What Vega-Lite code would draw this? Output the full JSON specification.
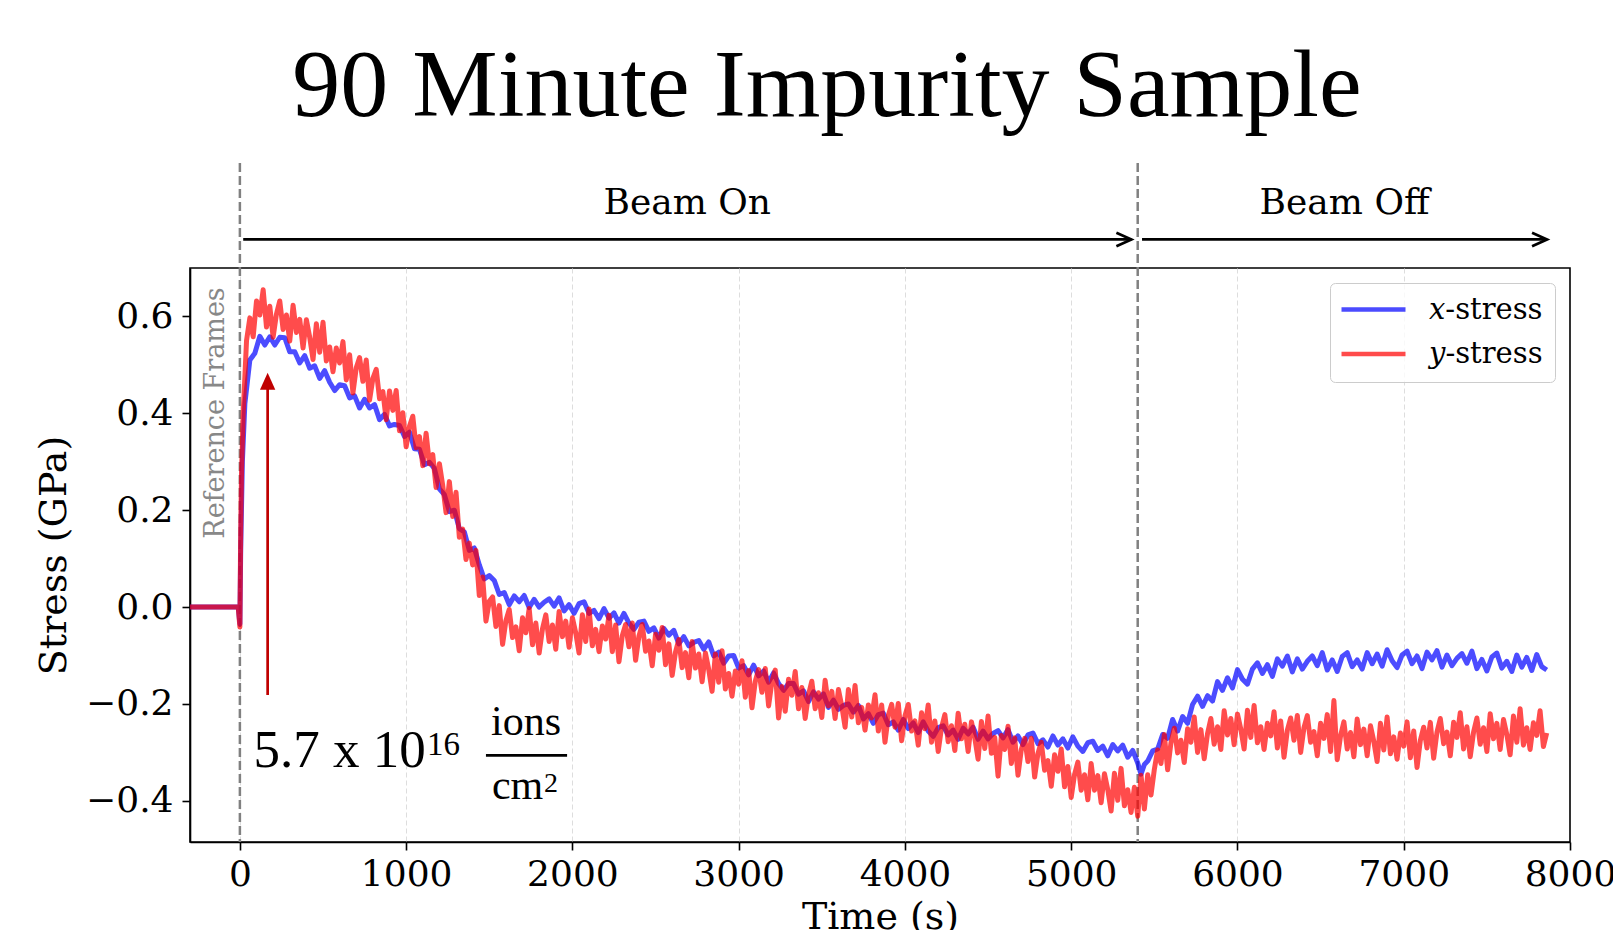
{
  "$schema": "https://vega.github.io/schema/vega-lite/v6.json",
  "usermeta": {"embedOptions": {"actions": false}},
  "autosize": {"type": "none"},
  "padding": {"left": 190, "top": 268, "right": 43, "bottom": 88},
  "width": 1380,
  "height": 574,
  "background": "white",
  "config": {
    "view": {"stroke": "#000000", "strokeWidth": 1.6},
    "axis": {
      "labelFont": "DejaVu Serif", "labelFontSize": 36, "labelColor": "#000000",
      "titleFont": "DejaVu Serif", "titleFontSize": 38, "titleFontWeight": "normal", "titleColor": "#000000",
      "tickColor": "#000000", "tickSize": 8, "tickWidth": 1.6,
      "domainColor": "#000000", "domainWidth": 1.6,
      "gridDash": [5, 3], "gridWidth": 1
    }
  },
  "layer": [
    {
      "data": {"values": [{"t": 0}, {"t": 5400}]},
      "mark": {"type": "rule", "strokeDash": [9, 4], "strokeWidth": 2.5, "color": "#808080", "clip": false},
      "encoding": {
        "x": {"field": "t", "type": "quantitative"},
        "y": {"datum": 0.917},
        "y2": {"datum": -0.485}
      }
    },
    {
      "data": {"values": [
        {"t":-300,"stress":0},{"t":-200,"stress":0},{"t":-100,"stress":0},{"t":-10,"stress":0},{"t":0,"stress":-0.035},{"t":5,"stress":0.12},{"t":15,"stress":0.30},{"t":30,"stress":0.42},
        {"t":60,"stress":0.510},{"t":90,"stress":0.524},{"t":120,"stress":0.559},{"t":150,"stress":0.541},{"t":180,"stress":0.558},{"t":210,"stress":0.541},{"t":240,"stress":0.557},{"t":270,"stress":0.556},
        {"t":300,"stress":0.527},{"t":330,"stress":0.527},{"t":360,"stress":0.504},{"t":390,"stress":0.519},{"t":420,"stress":0.493},{"t":450,"stress":0.498},{"t":480,"stress":0.472},{"t":510,"stress":0.488},
        {"t":540,"stress":0.464},{"t":570,"stress":0.447},{"t":600,"stress":0.459},{"t":630,"stress":0.457},{"t":660,"stress":0.432},{"t":690,"stress":0.436},{"t":720,"stress":0.411},{"t":750,"stress":0.429},
        {"t":780,"stress":0.411},{"t":810,"stress":0.418},{"t":840,"stress":0.387},{"t":870,"stress":0.398},{"t":900,"stress":0.374},{"t":930,"stress":0.377},{"t":960,"stress":0.375},{"t":990,"stress":0.352},
        {"t":1020,"stress":0.361},{"t":1050,"stress":0.327},{"t":1080,"stress":0.326},{"t":1110,"stress":0.294},{"t":1140,"stress":0.299},{"t":1170,"stress":0.286},{"t":1200,"stress":0.244},{"t":1230,"stress":0.232},
        {"t":1260,"stress":0.197},{"t":1290,"stress":0.200},{"t":1320,"stress":0.162},{"t":1350,"stress":0.155},{"t":1380,"stress":0.117},{"t":1410,"stress":0.122},{"t":1440,"stress":0.087},{"t":1470,"stress":0.058},
        {"t":1500,"stress":0.065},{"t":1530,"stress":0.055},{"t":1560,"stress":0.026},{"t":1590,"stress":0.030},{"t":1620,"stress":0.005},{"t":1650,"stress":0.023},{"t":1680,"stress":0.011},{"t":1710,"stress":0.024},
        {"t":1740,"stress":-0.001},{"t":1770,"stress":0.016},{"t":1800,"stress":0.000},{"t":1830,"stress":0.010},{"t":1860,"stress":0.017},{"t":1890,"stress":0.002},{"t":1920,"stress":0.019},{"t":1950,"stress":-0.008},
        {"t":1980,"stress":0.005},{"t":2010,"stress":-0.013},{"t":2040,"stress":0.007},{"t":2070,"stress":0.011},{"t":2100,"stress":-0.013},{"t":2130,"stress":-0.007},{"t":2160,"stress":-0.024},{"t":2190,"stress":-0.003},
        {"t":2220,"stress":-0.023},{"t":2250,"stress":-0.012},{"t":2280,"stress":-0.033},{"t":2310,"stress":-0.013},{"t":2340,"stress":-0.033},{"t":2370,"stress":-0.046},{"t":2400,"stress":-0.031},{"t":2430,"stress":-0.029},
        {"t":2460,"stress":-0.050},{"t":2490,"stress":-0.043},{"t":2520,"stress":-0.064},{"t":2550,"stress":-0.044},{"t":2580,"stress":-0.058},{"t":2610,"stress":-0.048},{"t":2640,"stress":-0.076},{"t":2670,"stress":-0.061},
        {"t":2700,"stress":-0.080},{"t":2730,"stress":-0.073},{"t":2760,"stress":-0.069},{"t":2790,"stress":-0.087},{"t":2820,"stress":-0.072},{"t":2850,"stress":-0.101},{"t":2880,"stress":-0.093},{"t":2910,"stress":-0.116},
        {"t":2940,"stress":-0.101},{"t":2970,"stress":-0.100},{"t":3000,"stress":-0.126},{"t":3030,"stress":-0.121},{"t":3060,"stress":-0.140},{"t":3090,"stress":-0.120},{"t":3120,"stress":-0.142},{"t":3150,"stress":-0.132},
        {"t":3180,"stress":-0.155},{"t":3210,"stress":-0.136},{"t":3240,"stress":-0.158},{"t":3270,"stress":-0.172},{"t":3300,"stress":-0.158},{"t":3330,"stress":-0.158},{"t":3360,"stress":-0.180},{"t":3390,"stress":-0.173},
        {"t":3420,"stress":-0.195},{"t":3450,"stress":-0.175},{"t":3480,"stress":-0.190},{"t":3510,"stress":-0.179},{"t":3540,"stress":-0.207},{"t":3570,"stress":-0.192},{"t":3600,"stress":-0.211},{"t":3630,"stress":-0.203},
        {"t":3660,"stress":-0.200},{"t":3690,"stress":-0.217},{"t":3720,"stress":-0.203},{"t":3750,"stress":-0.231},{"t":3780,"stress":-0.220},{"t":3810,"stress":-0.240},{"t":3840,"stress":-0.222},{"t":3870,"stress":-0.219},
        {"t":3900,"stress":-0.243},{"t":3930,"stress":-0.237},{"t":3960,"stress":-0.254},{"t":3990,"stress":-0.232},{"t":4020,"stress":-0.251},{"t":4050,"stress":-0.239},{"t":4080,"stress":-0.259},{"t":4110,"stress":-0.237},
        {"t":4140,"stress":-0.256},{"t":4170,"stress":-0.267},{"t":4200,"stress":-0.249},{"t":4230,"stress":-0.245},{"t":4260,"stress":-0.264},{"t":4290,"stress":-0.254},{"t":4320,"stress":-0.273},{"t":4350,"stress":-0.250},
        {"t":4380,"stress":-0.262},{"t":4410,"stress":-0.248},{"t":4440,"stress":-0.273},{"t":4470,"stress":-0.256},{"t":4500,"stress":-0.272},{"t":4530,"stress":-0.261},{"t":4560,"stress":-0.255},{"t":4590,"stress":-0.270},
        {"t":4620,"stress":-0.253},{"t":4650,"stress":-0.279},{"t":4680,"stress":-0.266},{"t":4710,"stress":-0.284},{"t":4740,"stress":-0.264},{"t":4770,"stress":-0.260},{"t":4800,"stress":-0.282},{"t":4830,"stress":-0.274},
        {"t":4860,"stress":-0.289},{"t":4890,"stress":-0.266},{"t":4920,"stress":-0.285},{"t":4950,"stress":-0.272},{"t":4980,"stress":-0.291},{"t":5010,"stress":-0.268},{"t":5040,"stress":-0.287},{"t":5070,"stress":-0.298},
        {"t":5100,"stress":-0.280},{"t":5130,"stress":-0.277},{"t":5160,"stress":-0.296},{"t":5190,"stress":-0.287},{"t":5220,"stress":-0.307},{"t":5250,"stress":-0.284},{"t":5280,"stress":-0.297},{"t":5310,"stress":-0.285},
        {"t":5340,"stress":-0.310},{"t":5370,"stress":-0.296},{"t":5400,"stress":-0.322},{"t":5420,"stress":-0.345},{"t":5440,"stress":-0.325},{"t":5460,"stress":-0.318},{"t":5490,"stress":-0.297},{"t":5520,"stress":-0.293},
        {"t":5550,"stress":-0.263},{"t":5580,"stress":-0.271},{"t":5610,"stress":-0.232},{"t":5640,"stress":-0.256},{"t":5670,"stress":-0.226},{"t":5700,"stress":-0.240},{"t":5730,"stress":-0.201},{"t":5760,"stress":-0.184},
        {"t":5790,"stress":-0.205},{"t":5820,"stress":-0.183},{"t":5850,"stress":-0.194},{"t":5880,"stress":-0.154},{"t":5910,"stress":-0.172},{"t":5940,"stress":-0.146},{"t":5970,"stress":-0.167},{"t":6000,"stress":-0.129},
        {"t":6030,"stress":-0.149},{"t":6060,"stress":-0.159},{"t":6090,"stress":-0.128},{"t":6120,"stress":-0.115},{"t":6150,"stress":-0.137},{"t":6180,"stress":-0.119},{"t":6210,"stress":-0.143},{"t":6240,"stress":-0.107},
        {"t":6270,"stress":-0.122},{"t":6300,"stress":-0.101},{"t":6330,"stress":-0.134},{"t":6360,"stress":-0.107},{"t":6390,"stress":-0.128},{"t":6420,"stress":-0.112},{"t":6450,"stress":-0.101},{"t":6480,"stress":-0.121},
        {"t":6510,"stress":-0.094},{"t":6540,"stress":-0.130},{"t":6570,"stress":-0.109},{"t":6600,"stress":-0.133},{"t":6630,"stress":-0.102},{"t":6660,"stress":-0.094},{"t":6690,"stress":-0.123},{"t":6720,"stress":-0.109},
        {"t":6750,"stress":-0.128},{"t":6780,"stress":-0.094},{"t":6810,"stress":-0.117},{"t":6840,"stress":-0.097},{"t":6870,"stress":-0.122},{"t":6900,"stress":-0.088},{"t":6930,"stress":-0.111},{"t":6960,"stress":-0.125},
        {"t":6990,"stress":-0.099},{"t":7020,"stress":-0.091},{"t":7050,"stress":-0.117},{"t":7080,"stress":-0.101},{"t":7110,"stress":-0.127},{"t":7140,"stress":-0.093},{"t":7170,"stress":-0.109},{"t":7200,"stress":-0.090},
        {"t":7230,"stress":-0.124},{"t":7260,"stress":-0.099},{"t":7290,"stress":-0.121},{"t":7320,"stress":-0.106},{"t":7350,"stress":-0.096},{"t":7380,"stress":-0.116},{"t":7410,"stress":-0.091},{"t":7440,"stress":-0.127},
        {"t":7470,"stress":-0.108},{"t":7500,"stress":-0.132},{"t":7530,"stress":-0.103},{"t":7560,"stress":-0.095},{"t":7590,"stress":-0.126},{"t":7620,"stress":-0.112},{"t":7650,"stress":-0.133},{"t":7680,"stress":-0.099},
        {"t":7710,"stress":-0.124},{"t":7740,"stress":-0.104},{"t":7770,"stress":-0.131},{"t":7800,"stress":-0.098},{"t":7830,"stress":-0.123},{"t":7860,"stress":-0.130}
      ]},
      "mark": {"type": "line", "strokeWidth": 5, "opacity": 0.7, "strokeJoin": "round"},
      "encoding": {
        "x": {
          "field": "t", "type": "quantitative",
          "scale": {"domain": [-300, 8000], "nice": false, "zero": false},
          "axis": {"title": "Time (s)", "values": [0, 1000, 2000, 3000, 4000, 5000, 6000, 7000, 8000], "format": "d",
                   "labelPadding": 7, "titlePadding": 6, "labelFlush": false, "labelOverlap": false, "labelBound": false,
                   "gridColor": {"condition": {"test": "datum.value >= 8000", "value": "transparent"}, "value": "#dddddd"}}
        },
        "y": {
          "field": "stress", "type": "quantitative",
          "scale": {"domain": [-0.485, 0.70], "nice": false, "zero": false},
          "axis": {"title": "Stress (GPa)", "values": [-0.4, -0.2, 0, 0.2, 0.4, 0.6], "format": ".1f",
                   "labelPadding": 9, "titlePadding": 12, "gridColor": "#dddddd"}
        },
        "color": {
          "datum": "x-stress", "type": "nominal",
          "scale": {"domain": ["x-stress", "y-stress"], "range": ["#0000ff", "#ff0000"]},
          "legend": {
            "title": null, "orient": "top-right", "offset": 15,
            "symbolType": "M-1.5,0L4.9,0", "symbolSize": 400, "symbolStrokeWidth": 4.5, "symbolOpacity": 0.7,
            "labelOffset": 58,
            "labelFont": "DejaVu Serif", "labelFontSize": 29, "labelColor": "#000000",
            "rowPadding": 14.6, "padding": 12,
            "strokeColor": "#cccccc", "fillColor": "rgba(255,255,255,0.8)", "cornerRadius": 5,
            "labelExpr": "datum.label == 'x-stress' ? '𝑥-stress' : '𝑦-stress'"
          }
        }
      }
    },
    {
      "data": {"values": [
        {"t":-300,"stress":0},{"t":-200,"stress":0},{"t":-100,"stress":0},{"t":-10,"stress":0},{"t":0,"stress":-0.041},{"t":5,"stress":0.16},{"t":10,"stress":0.28},
        {"t":20,"stress":0.40},{"t":40,"stress":0.55},{"t":60,"stress":0.597},{"t":80,"stress":0.558},{"t":100,"stress":0.632},{"t":120,"stress":0.603},{"t":140,"stress":0.655},{"t":160,"stress":0.578},
        {"t":180,"stress":0.621},{"t":200,"stress":0.557},{"t":220,"stress":0.605},{"t":240,"stress":0.632},{"t":260,"stress":0.573},{"t":280,"stress":0.603},{"t":300,"stress":0.549},{"t":320,"stress":0.623},
        {"t":340,"stress":0.567},{"t":360,"stress":0.594},{"t":380,"stress":0.535},{"t":400,"stress":0.593},{"t":420,"stress":0.557},{"t":440,"stress":0.511},{"t":460,"stress":0.585},{"t":480,"stress":0.526},
        {"t":500,"stress":0.588},{"t":520,"stress":0.508},{"t":540,"stress":0.537},{"t":560,"stress":0.486},{"t":580,"stress":0.535},{"t":600,"stress":0.504},{"t":620,"stress":0.548},{"t":640,"stress":0.469},
        {"t":660,"stress":0.521},{"t":680,"stress":0.442},{"t":700,"stress":0.494},{"t":720,"stress":0.515},{"t":740,"stress":0.466},{"t":760,"stress":0.510},{"t":780,"stress":0.427},{"t":800,"stress":0.472},
        {"t":820,"stress":0.491},{"t":840,"stress":0.430},{"t":860,"stress":0.445},{"t":880,"stress":0.387},{"t":900,"stress":0.446},{"t":920,"stress":0.406},{"t":940,"stress":0.447},{"t":960,"stress":0.364},
        {"t":980,"stress":0.401},{"t":1000,"stress":0.331},{"t":1020,"stress":0.373},{"t":1040,"stress":0.394},{"t":1060,"stress":0.329},{"t":1080,"stress":0.352},{"t":1100,"stress":0.292},{"t":1120,"stress":0.359},
        {"t":1140,"stress":0.296},{"t":1160,"stress":0.315},{"t":1180,"stress":0.247},{"t":1200,"stress":0.296},{"t":1220,"stress":0.251},{"t":1240,"stress":0.195},{"t":1260,"stress":0.259},{"t":1280,"stress":0.187},
        {"t":1300,"stress":0.237},{"t":1320,"stress":0.144},{"t":1340,"stress":0.161},{"t":1360,"stress":0.098},{"t":1380,"stress":0.132},{"t":1400,"stress":0.087},{"t":1420,"stress":0.117},{"t":1440,"stress":0.024},
        {"t":1460,"stress":0.062},{"t":1480,"stress":-0.029},{"t":1500,"stress":0.012},{"t":1520,"stress":0.021},{"t":1540,"stress":-0.040},{"t":1560,"stress":0.003},{"t":1580,"stress":-0.077},{"t":1600,"stress":-0.028},
        {"t":1620,"stress":-0.005},{"t":1640,"stress":-0.063},{"t":1660,"stress":-0.041},{"t":1680,"stress":-0.090},{"t":1700,"stress":-0.022},{"t":1720,"stress":-0.053},{"t":1740,"stress":-0.003},{"t":1760,"stress":-0.078},
        {"t":1780,"stress":-0.033},{"t":1800,"stress":-0.095},{"t":1820,"stress":-0.045},{"t":1840,"stress":-0.016},{"t":1860,"stress":-0.071},{"t":1880,"stress":-0.037},{"t":1900,"stress":-0.087},{"t":1920,"stress":-0.009},
        {"t":1940,"stress":-0.061},{"t":1960,"stress":-0.029},{"t":1980,"stress":-0.083},{"t":2000,"stress":-0.022},{"t":2020,"stress":-0.053},{"t":2040,"stress":-0.095},{"t":2060,"stress":-0.016},{"t":2080,"stress":-0.071},
        {"t":2100,"stress":-0.004},{"t":2120,"stress":-0.080},{"t":2140,"stress":-0.046},{"t":2160,"stress":-0.092},{"t":2180,"stress":-0.039},{"t":2200,"stress":-0.066},{"t":2220,"stress":-0.017},{"t":2240,"stress":-0.092},
        {"t":2260,"stress":-0.037},{"t":2280,"stress":-0.113},{"t":2300,"stress":-0.059},{"t":2320,"stress":-0.036},{"t":2340,"stress":-0.082},{"t":2360,"stress":-0.033},{"t":2380,"stress":-0.110},{"t":2400,"stress":-0.060},
        {"t":2420,"stress":-0.036},{"t":2440,"stress":-0.091},{"t":2460,"stress":-0.070},{"t":2480,"stress":-0.121},{"t":2500,"stress":-0.056},{"t":2520,"stress":-0.089},{"t":2540,"stress":-0.042},{"t":2560,"stress":-0.119},
        {"t":2580,"stress":-0.076},{"t":2600,"stress":-0.141},{"t":2620,"stress":-0.093},{"t":2640,"stress":-0.067},{"t":2660,"stress":-0.125},{"t":2680,"stress":-0.094},{"t":2700,"stress":-0.146},{"t":2720,"stress":-0.071},
        {"t":2740,"stress":-0.126},{"t":2760,"stress":-0.097},{"t":2780,"stress":-0.154},{"t":2800,"stress":-0.095},{"t":2820,"stress":-0.129},{"t":2840,"stress":-0.174},{"t":2860,"stress":-0.097},{"t":2880,"stress":-0.155},
        {"t":2900,"stress":-0.090},{"t":2920,"stress":-0.169},{"t":2940,"stress":-0.137},{"t":2960,"stress":-0.184},{"t":2980,"stress":-0.132},{"t":3000,"stress":-0.159},{"t":3020,"stress":-0.111},{"t":3040,"stress":-0.186},
        {"t":3060,"stress":-0.131},{"t":3080,"stress":-0.208},{"t":3100,"stress":-0.153},{"t":3120,"stress":-0.129},{"t":3140,"stress":-0.176},{"t":3160,"stress":-0.127},{"t":3180,"stress":-0.204},{"t":3200,"stress":-0.154},
        {"t":3220,"stress":-0.130},{"t":3240,"stress":-0.229},{"t":3260,"stress":-0.164},{"t":3280,"stress":-0.215},{"t":3300,"stress":-0.149},{"t":3320,"stress":-0.182},{"t":3340,"stress":-0.133},{"t":3360,"stress":-0.210},
        {"t":3380,"stress":-0.166},{"t":3400,"stress":-0.230},{"t":3420,"stress":-0.181},{"t":3440,"stress":-0.153},{"t":3460,"stress":-0.210},{"t":3480,"stress":-0.177},{"t":3500,"stress":-0.228},{"t":3520,"stress":-0.151},
        {"t":3540,"stress":-0.204},{"t":3560,"stress":-0.174},{"t":3580,"stress":-0.230},{"t":3600,"stress":-0.170},{"t":3620,"stress":-0.204},{"t":3640,"stress":-0.248},{"t":3660,"stress":-0.170},{"t":3680,"stress":-0.227},
        {"t":3700,"stress":-0.162},{"t":3720,"stress":-0.239},{"t":3740,"stress":-0.207},{"t":3760,"stress":-0.254},{"t":3780,"stress":-0.202},{"t":3800,"stress":-0.229},{"t":3820,"stress":-0.181},{"t":3840,"stress":-0.256},
        {"t":3860,"stress":-0.202},{"t":3880,"stress":-0.279},{"t":3900,"stress":-0.224},{"t":3920,"stress":-0.201},{"t":3940,"stress":-0.248},{"t":3960,"stress":-0.199},{"t":3980,"stress":-0.276},{"t":4000,"stress":-0.225},
        {"t":4020,"stress":-0.201},{"t":4040,"stress":-0.256},{"t":4060,"stress":-0.235},{"t":4080,"stress":-0.285},{"t":4100,"stress":-0.218},{"t":4120,"stress":-0.251},{"t":4140,"stress":-0.202},{"t":4160,"stress":-0.279},
        {"t":4180,"stress":-0.235},{"t":4200,"stress":-0.298},{"t":4220,"stress":-0.249},{"t":4240,"stress":-0.222},{"t":4260,"stress":-0.278},{"t":4280,"stress":-0.245},{"t":4300,"stress":-0.296},{"t":4320,"stress":-0.219},
        {"t":4340,"stress":-0.272},{"t":4360,"stress":-0.242},{"t":4380,"stress":-0.298},{"t":4400,"stress":-0.237},{"t":4420,"stress":-0.270},{"t":4440,"stress":-0.314},{"t":4460,"stress":-0.236},{"t":4480,"stress":-0.292},
        {"t":4500,"stress":-0.225},{"t":4520,"stress":-0.302},{"t":4540,"stress":-0.269},{"t":4560,"stress":-0.349},{"t":4580,"stress":-0.265},{"t":4600,"stress":-0.294},{"t":4620,"stress":-0.246},{"t":4640,"stress":-0.323},
        {"t":4660,"stress":-0.270},{"t":4680,"stress":-0.347},{"t":4700,"stress":-0.294},{"t":4720,"stress":-0.271},{"t":4740,"stress":-0.319},{"t":4760,"stress":-0.271},{"t":4780,"stress":-0.351},{"t":4800,"stress":-0.302},
        {"t":4820,"stress":-0.279},{"t":4840,"stress":-0.337},{"t":4860,"stress":-0.317},{"t":4880,"stress":-0.370},{"t":4900,"stress":-0.305},{"t":4920,"stress":-0.339},{"t":4940,"stress":-0.293},{"t":4960,"stress":-0.371},
        {"t":4980,"stress":-0.329},{"t":5000,"stress":-0.393},{"t":5020,"stress":-0.346},{"t":5040,"stress":-0.320},{"t":5060,"stress":-0.378},{"t":5080,"stress":-0.346},{"t":5100,"stress":-0.398},{"t":5120,"stress":-0.323},
        {"t":5140,"stress":-0.378},{"t":5160,"stress":-0.348},{"t":5180,"stress":-0.404},{"t":5200,"stress":-0.344},{"t":5220,"stress":-0.377},{"t":5240,"stress":-0.421},{"t":5260,"stress":-0.343},{"t":5280,"stress":-0.399},
        {"t":5300,"stress":-0.333},{"t":5320,"stress":-0.410},{"t":5340,"stress":-0.377},{"t":5360,"stress":-0.424},{"t":5380,"stress":-0.372},{"t":5400,"stress":-0.432},{"t":5420,"stress":-0.347},{"t":5440,"stress":-0.417},
        {"t":5460,"stress":-0.346},{"t":5480,"stress":-0.388},{"t":5500,"stress":-0.335},{"t":5520,"stress":-0.295},{"t":5540,"stress":-0.323},{"t":5560,"stress":-0.263},{"t":5580,"stress":-0.336},{"t":5600,"stress":-0.280},
        {"t":5620,"stress":-0.250},{"t":5640,"stress":-0.301},{"t":5660,"stress":-0.275},{"t":5680,"stress":-0.321},{"t":5700,"stress":-0.251},{"t":5720,"stress":-0.279},{"t":5740,"stress":-0.227},{"t":5760,"stress":-0.300},
        {"t":5780,"stress":-0.253},{"t":5800,"stress":-0.313},{"t":5820,"stress":-0.261},{"t":5840,"stress":-0.230},{"t":5860,"stress":-0.283},{"t":5880,"stress":-0.247},{"t":5900,"stress":-0.294},{"t":5920,"stress":-0.214},
        {"t":5940,"stress":-0.264},{"t":5960,"stress":-0.230},{"t":5980,"stress":-0.284},{"t":6000,"stress":-0.221},{"t":6020,"stress":-0.252},{"t":6040,"stress":-0.293},{"t":6060,"stress":-0.213},{"t":6080,"stress":-0.269},
        {"t":6100,"stress":-0.203},{"t":6120,"stress":-0.280},{"t":6140,"stress":-0.247},{"t":6160,"stress":-0.294},{"t":6180,"stress":-0.240},{"t":6200,"stress":-0.266},{"t":6220,"stress":-0.216},{"t":6240,"stress":-0.291},
        {"t":6260,"stress":-0.235},{"t":6280,"stress":-0.310},{"t":6300,"stress":-0.254},{"t":6320,"stress":-0.229},{"t":6340,"stress":-0.275},{"t":6360,"stress":-0.224},{"t":6380,"stress":-0.300},{"t":6400,"stress":-0.249},
        {"t":6420,"stress":-0.224},{"t":6440,"stress":-0.279},{"t":6460,"stress":-0.257},{"t":6480,"stress":-0.307},{"t":6500,"stress":-0.240},{"t":6520,"stress":-0.271},{"t":6540,"stress":-0.222},{"t":6560,"stress":-0.298},
        {"t":6580,"stress":-0.193},{"t":6600,"stress":-0.315},{"t":6620,"stress":-0.266},{"t":6640,"stress":-0.237},{"t":6660,"stress":-0.293},{"t":6680,"stress":-0.259},{"t":6700,"stress":-0.309},{"t":6720,"stress":-0.231},
        {"t":6740,"stress":-0.284},{"t":6760,"stress":-0.252},{"t":6780,"stress":-0.307},{"t":6800,"stress":-0.245},{"t":6820,"stress":-0.277},{"t":6840,"stress":-0.319},{"t":6860,"stress":-0.240},{"t":6880,"stress":-0.295},
        {"t":6900,"stress":-0.227},{"t":6920,"stress":-0.303},{"t":6940,"stress":-0.268},{"t":6960,"stress":-0.314},{"t":6980,"stress":-0.260},{"t":7000,"stress":-0.287},{"t":7020,"stress":-0.237},{"t":7040,"stress":-0.311},
        {"t":7060,"stress":-0.256},{"t":7080,"stress":-0.331},{"t":7100,"stress":-0.275},{"t":7120,"stress":-0.248},{"t":7140,"stress":-0.291},{"t":7160,"stress":-0.238},{"t":7180,"stress":-0.312},{"t":7200,"stress":-0.258},
        {"t":7220,"stress":-0.230},{"t":7240,"stress":-0.282},{"t":7260,"stress":-0.258},{"t":7280,"stress":-0.307},{"t":7300,"stress":-0.238},{"t":7320,"stress":-0.269},{"t":7340,"stress":-0.218},{"t":7360,"stress":-0.293},
        {"t":7380,"stress":-0.247},{"t":7400,"stress":-0.309},{"t":7420,"stress":-0.258},{"t":7440,"stress":-0.229},{"t":7460,"stress":-0.283},{"t":7480,"stress":-0.249},{"t":7500,"stress":-0.298},{"t":7520,"stress":-0.220},
        {"t":7540,"stress":-0.272},{"t":7560,"stress":-0.240},{"t":7580,"stress":-0.294},{"t":7600,"stress":-0.232},{"t":7620,"stress":-0.263},{"t":7640,"stress":-0.305},{"t":7660,"stress":-0.225},{"t":7680,"stress":-0.279},
        {"t":7700,"stress":-0.210},{"t":7720,"stress":-0.285},{"t":7740,"stress":-0.249},{"t":7760,"stress":-0.294},{"t":7780,"stress":-0.239},{"t":7800,"stress":-0.265},{"t":7820,"stress":-0.214},{"t":7840,"stress":-0.288},
        {"t":7860,"stress":-0.260}
      ]},
      "mark": {"type": "line", "strokeWidth": 5, "opacity": 0.7, "strokeJoin": "round"},
      "encoding": {
        "x": {"field": "t", "type": "quantitative"},
        "y": {"field": "stress", "type": "quantitative"},
        "color": {"datum": "y-stress", "type": "nominal"}
      }
    },
    {
      "data": {"values": [{"start": 20, "end": 5362, "mid": 2691, "label": "Beam On"}, {"start": 5426, "end": 7862, "mid": 6644, "label": "Beam Off"}]},
      "layer": [
        {
          "mark": {"type": "rule", "color": "#000000", "strokeWidth": 2.7, "clip": false},
          "encoding": {"x": {"field": "start", "type": "quantitative"}, "x2": {"field": "end"}, "y": {"datum": 0.759}}
        },
        {
          "mark": {"type": "point", "shape": "M-2,-0.9L0,0L-2,0.9", "size": 225, "filled": false, "stroke": "#000000", "strokeWidth": 2.7, "opacity": 1, "clip": false},
          "encoding": {"x": {"field": "end", "type": "quantitative"}, "y": {"datum": 0.759}}
        },
        {
          "mark": {"type": "text", "font": "DejaVu Serif", "fontSize": 36, "color": "#000000", "align": "center", "baseline": "alphabetic", "clip": false},
          "encoding": {"x": {"field": "mid", "type": "quantitative"}, "y": {"datum": 0.8115}, "text": {"field": "label"}}
        }
      ]
    },
    {
      "data": {"values": [{}]},
      "mark": {"type": "rule", "color": "#c00000", "strokeWidth": 2.7, "clip": false},
      "encoding": {"x": {"datum": 167}, "y": {"datum": -0.1815}, "y2": {"datum": 0.455}}
    },
    {
      "data": {"values": [{}]},
      "mark": {"type": "point", "shape": "M0,-1L0.9,1L-0.9,1Z", "size": 289, "filled": true, "fill": "#c00000", "strokeWidth": 0, "opacity": 1, "clip": false},
      "encoding": {"x": {"datum": 167}, "y": {"datum": 0.466}}
    },
    {
      "data": {"values": [{}]},
      "mark": {"type": "text", "text": "5.7 x 10", "font": "Liberation Serif", "fontSize": 53, "color": "#000000", "align": "left", "baseline": "alphabetic", "clip": false},
      "encoding": {"x": {"datum": 82}, "y": {"datum": -0.3295}}
    },
    {
      "data": {"values": [{}]},
      "mark": {"type": "text", "text": "16", "font": "Liberation Serif", "fontSize": 33, "color": "#000000", "align": "left", "baseline": "alphabetic", "clip": false},
      "encoding": {"x": {"datum": 1125}, "y": {"datum": -0.3054}}
    },
    {
      "data": {"values": [{}]},
      "mark": {"type": "text", "text": "ions", "font": "Liberation Serif", "fontSize": 42, "color": "#000000", "align": "center", "baseline": "alphabetic", "clip": false},
      "encoding": {"x": {"datum": 1721}, "y": {"datum": -0.264}}
    },
    {
      "data": {"values": [{}]},
      "mark": {"type": "rule", "color": "#000000", "strokeWidth": 2.7, "clip": false},
      "encoding": {"x": {"datum": 1480}, "x2": {"datum": 1968}, "y": {"datum": -0.306}}
    },
    {
      "data": {"values": [{}]},
      "mark": {"type": "text", "text": "cm", "font": "Liberation Serif", "fontSize": 42, "color": "#000000", "align": "left", "baseline": "alphabetic", "clip": false},
      "encoding": {"x": {"datum": 1516}, "y": {"datum": -0.3968}}
    },
    {
      "data": {"values": [{}]},
      "mark": {"type": "text", "text": "2", "font": "Liberation Serif", "fontSize": 28, "color": "#000000", "align": "left", "baseline": "alphabetic", "clip": false},
      "encoding": {"x": {"datum": 1829}, "y": {"datum": -0.381}}
    },
    {
      "data": {"values": [{}]},
      "mark": {"type": "text", "text": "Reference Frames", "font": "DejaVu Serif", "fontSize": 27, "color": "#888888", "angle": 270, "align": "center", "baseline": "alphabetic", "clip": false},
      "encoding": {"x": {"datum": -98}, "y": {"datum": 0.4007}}
    },
    {
      "data": {"values": [{}]},
      "mark": {"type": "text", "text": "90 Minute Impurity Sample", "font": "Liberation Serif", "fontSize": 96, "color": "#000000", "align": "center", "baseline": "alphabetic", "clip": false},
      "encoding": {"x": {"datum": 3531}, "y": {"datum": 1.0148}}
    }
  ]
}
